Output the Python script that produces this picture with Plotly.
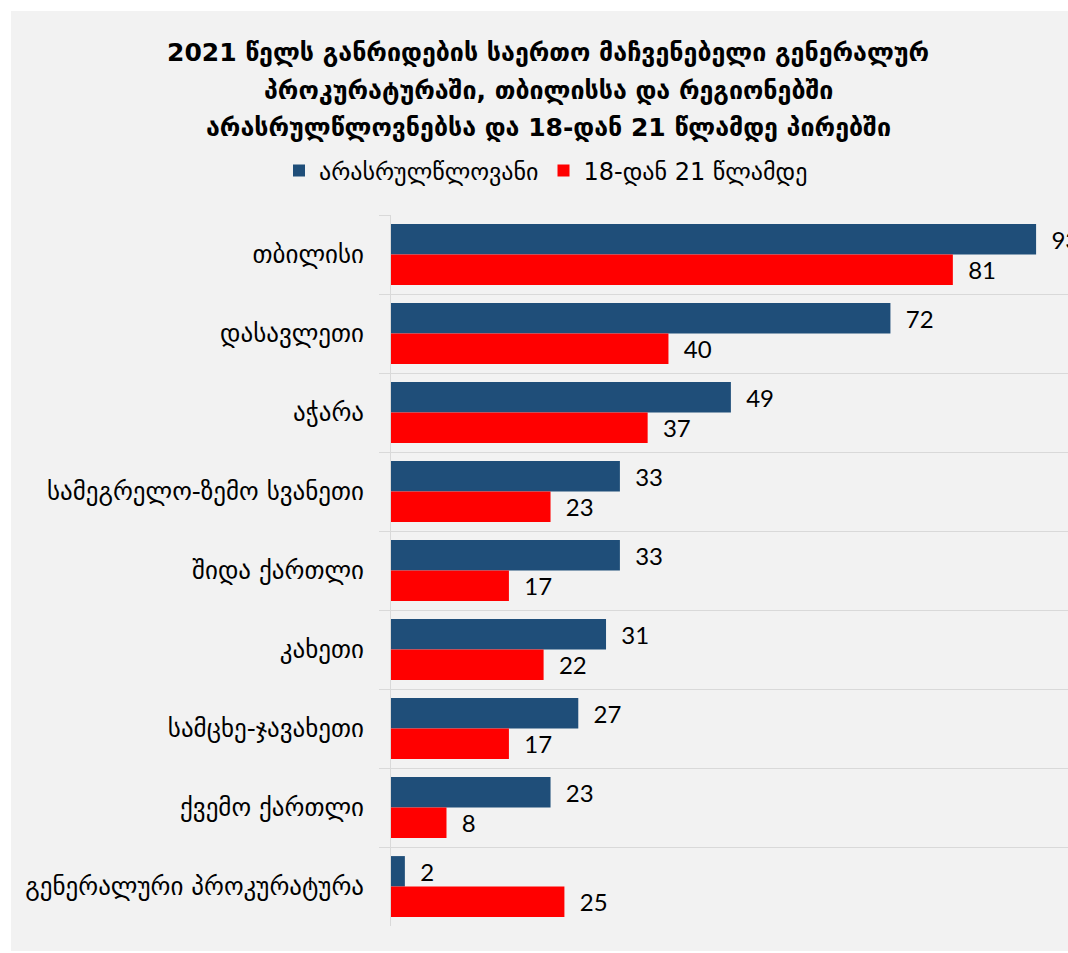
import plotly.graph_objects as go

categories = ["თბილისი", "დასავლეთი", "აჭარა", "სამეგრელო-ზემო სვანეთი", "შიდა ქართლი",
              "კახეთი", "სამცხე-ჯავახეთი", "ქვემო ქართლი", "გენერალური პროკურატურა"]
minors = [93, 72, 49, 33, 33, 31, 27, 23, 2]
young_adults = [81, 40, 37, 23, 17, 22, 17, 8, 25]
series_names = ["არასრულწლოვანი", "18-დან 21 წლამდე"]
title_lines = ["2021 წელს განრიდების საერთო მაჩვენებელი გენერალურ",
               "პროკურატურაში, თბილისსა და რეგიონებში",
               "არასრულწლოვნებსა და 18-დან 21 წლამდე პირებში"]

W, H = 1068, 953
L, R, T, B = 391, 0, 215, 27
pw, ph = W - L - R, H - T - B

def px_to_paper_x(px):
    return (px - L) / pw

def px_to_paper_y(py):
    return (H - B - py) / ph

font_fam = "DejaVu Sans, Noto Sans, sans-serif"
num_font = "Lato, Open Sans, sans-serif"

fig = go.Figure()
for name, vals, col in [(series_names[0], minors, "#1F4E79"), (series_names[1], young_adults, "#FF0000")]:
    fig.add_trace(go.Bar(
        y=categories, x=vals, name=name, orientation="h",
        marker=dict(color=col, line=dict(width=0)),
        text=vals, texttemplate="\u00a0\u00a0%{x}", textposition="outside",
        constraintext="none", cliponaxis=False,
        textfont=dict(family=num_font, size=24, color="#000000"),
    ))

# grey panel with white border
fig.add_shape(type="rect", xref="paper", yref="paper",
              x0=px_to_paper_x(11), x1=1.0, y0=px_to_paper_y(951), y1=px_to_paper_y(11),
              fillcolor="#F2F2F2", line=dict(width=0), layer="below")

for i, line in enumerate(title_lines):
    fig.add_annotation(text=line, xref="paper", yref="paper",
                       x=px_to_paper_x(548), y=px_to_paper_y(52 + 38 * i),
                       xanchor="center", yanchor="middle", showarrow=False,
                       font=dict(family=font_fam, size=25, color="#000000", weight="bold"))

fig.update_layout(
    width=W, height=H,
    margin=dict(l=L, r=R, t=T, b=B, pad=0),
    paper_bgcolor="white", plot_bgcolor="rgba(0,0,0,0)",
    barmode="group", bargap=0.23, bargroupgap=0,
    legend=dict(orientation="h", x=px_to_paper_x(546), xanchor="center", xref="paper",
                y=px_to_paper_y(171), yanchor="middle",
                font=dict(family=font_fam, size=24, color="#000000"),
                bgcolor="rgba(0,0,0,0)", itemwidth=30, traceorder="normal"),
    showlegend=True,
)
fig.update_xaxes(range=[0, 97.6], visible=False, showgrid=False, zeroline=False)
fig.update_yaxes(autorange="reversed", tickson="boundaries", ticks="outside", ticklen=11,
                 tickcolor="#D9D9D9", showgrid=True, gridcolor="#D9D9D9", gridwidth=1,
                 showline=True, linecolor="#D9D9D9", linewidth=1,
                 tickfont=dict(family=font_fam, size=25, color="#000000"),
                 ticklabelstandoff=21)

fig.write_html("out.html", config={"displayModeBar": False},
               post_script="document.body.style.margin='0';document.body.style.overflow='hidden';")
